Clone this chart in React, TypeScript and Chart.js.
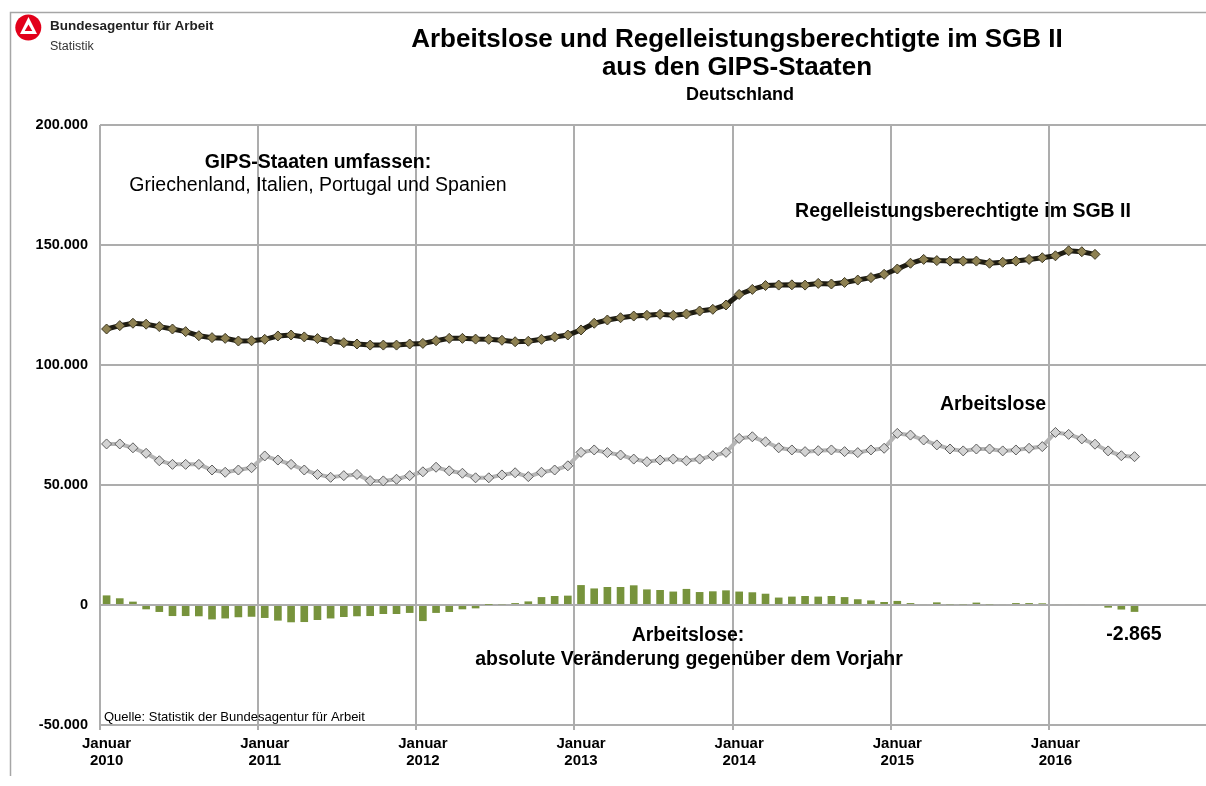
import { useEffect, useRef } from 'react';
import { Chart, registerables } from 'chart.js';

Chart.register(...registerables);

// ---- data ----
const years = ['2010', '2011', '2012', '2013', '2014', '2015', '2016'];
const monthNames = ['Januar', 'Februar', 'März', 'April', 'Mai', 'Juni', 'Juli', 'August', 'September', 'Oktober', 'November', 'Dezember'];
const tickMonth = 'Januar';

// Regelleistungsberechtigte im SGB II (Jan 2010 – Apr 2016)
const regelleistung = [
  115000, 116400, 117400, 117000, 116000, 115000, 113900, 112200, 111400, 111100, 110000, 110100,
  110700, 112100, 112500, 111700, 111000, 110000, 109300, 108750, 108300, 108300, 108300, 108750,
  109000, 110100, 111100, 111100, 110800, 110700, 110300, 109700, 109900, 110700, 111700, 112500,
  114600, 117400, 118750, 119700, 120400, 120700, 121100, 120700, 121250, 122500, 123200, 125000,
  129400, 131500, 133100, 133300, 133400, 133300, 134000, 133750, 134400, 135400, 136400, 137800,
  140000, 142400, 144000, 143500, 143300, 143300, 143300, 142400, 142800, 143300, 144000, 144700,
  145500, 147600, 147200, 146100,
];

// Arbeitslose (Jan 2010 – Jul 2016)
const arbeitslose = [
  67100, 67100, 65500, 63200, 60100, 58600, 58600, 58600, 56250, 55300, 56250, 57200,
  62100, 60400, 58600, 56250, 54400, 53200, 53900, 54400, 51800, 51700, 52400, 53900,
  55500, 57400, 55900, 54900, 53000, 53000, 54200, 55100, 53500, 55300, 56250, 58000,
  63600, 64600, 63500, 62500, 60800, 59700, 60400, 60800, 60100, 60800, 62200, 63600,
  69400, 70100, 68000, 65500, 64600, 63900, 64300, 64600, 63900, 63500, 64600, 65300,
  71500, 70800, 68750, 66700, 65000, 64200, 65000, 65000, 64200, 64600, 65300, 66000,
  71900, 71100, 69200, 67000, 64200, 62200, 61800,
];

// Arbeitslose: absolute Veränderung gegenüber dem Vorjahr
const veraenderung = [
  4000, 2800, 1400, -1800, -2900, -4600, -4600, -4700, -6000, -5600, -5100, -4900,
  -5400, -6500, -7200, -7100, -6250, -5600, -5000, -4700, -4600, -3750, -3750, -3300,
  -6700, -3300, -2900, -1800, -1400, 100, 300, 800, 1500, 3300, 3750, 3900,
  8300, 6900, 7500, 7500, 8200, 6500, 6250, 5600, 6700, 5400, 5700, 6100,
  5600, 5300, 4700, 3100, 3500, 3750, 3500, 3750, 3300, 2400, 1900, 1250,
  1700, 800, 400, 1100, 300, 300, 1000, 300, 400, 800, 800, 700,
  400, 400, 400, -400, -1100, -1900, -2865,
];

const yTicks = { min: -50000, max: 200000, step: 50000 };

const labels: string[] = [];
years.forEach((y) => monthNames.forEach((m) => labels.push(`${m} ${y}`)));

const FONT = "'Liberation Sans', Arial, Helvetica, sans-serif";
const GRID = '#adadad';

function fmt(v: number): string {
  const s = Math.abs(v).toString().replace(/\B(?=(\d{3})+(?!\d))/g, '.');
  return v < 0 ? '-' + s : s;
}

const decor = {
  id: 'decor',
  beforeDraw(chart: any) {
    const ctx: CanvasRenderingContext2D = chart.ctx;
    ctx.save();
    ctx.fillStyle = '#ffffff';
    ctx.fillRect(0, 0, chart.width, chart.height);
    // frame
    ctx.strokeStyle = '#a6a6a6';
    ctx.lineWidth = 1.5;
    ctx.beginPath();
    ctx.moveTo(10.5, 776);
    ctx.lineTo(10.5, 12.5);
    ctx.lineTo(chart.width, 12.5);
    ctx.stroke();
    // logo
    ctx.fillStyle = '#e2001a';
    ctx.beginPath();
    ctx.arc(28.3, 27.5, 13, 0, Math.PI * 2);
    ctx.fill();
    ctx.fillStyle = '#ffffff';
    ctx.beginPath();
    ctx.moveTo(28.5, 17);
    ctx.lineTo(37, 34);
    ctx.lineTo(20, 34);
    ctx.closePath();
    ctx.fill();
    ctx.fillStyle = '#e2001a';
    ctx.beginPath();
    ctx.moveTo(28.5, 24.5);
    ctx.lineTo(32.3, 31);
    ctx.lineTo(24.7, 31);
    ctx.closePath();
    ctx.fill();
    ctx.fillStyle = '#222';
    ctx.textBaseline = 'middle';
    ctx.textAlign = 'left';
    ctx.font = `bold 13.5px ${FONT}`;
    ctx.fillText('Bundesagentur für Arbeit', 50, 26);
    ctx.fillStyle = '#333';
    ctx.font = `12.5px ${FONT}`;
    ctx.fillText('Statistik', 50, 47);
    ctx.restore();
  },
  afterDraw(chart: any) {
    const ctx: CanvasRenderingContext2D = chart.ctx;
    ctx.save();
    ctx.fillStyle = '#000';
    ctx.textBaseline = 'middle';
    const t = (s: string, x: number, y: number, font: string, align: CanvasTextAlign = 'center') => {
      ctx.font = font;
      ctx.textAlign = align;
      ctx.fillText(s, x, y);
    };
    t('Arbeitslose und Regelleistungsberechtigte im SGB II', 737, 40, `bold 26px ${FONT}`);
    t('aus den GIPS-Staaten', 737, 68, `bold 26px ${FONT}`);
    t('Deutschland', 740, 95, `bold 18px ${FONT}`);
    t('GIPS-Staaten umfassen:', 318, 163, `bold 19.5px ${FONT}`);
    t('Griechenland, Italien, Portugal und Spanien', 318, 186, `19.5px ${FONT}`);
    t('Regelleistungsberechtigte im SGB II', 963, 212, `bold 19.5px ${FONT}`);
    t('Arbeitslose', 993, 405, `bold 19.5px ${FONT}`);
    t('Arbeitslose:', 688, 636, `bold 19.5px ${FONT}`);
    t('absolute Veränderung gegenüber dem Vorjahr', 689, 660, `bold 19.5px ${FONT}`);
    t(fmt(veraenderung[veraenderung.length - 1]), 1134, 635, `bold 19.5px ${FONT}`);
    t('Quelle: Statistik der Bundesagentur für Arbeit', 104, 717, `13px ${FONT}`, 'left');
    ctx.restore();
  },
};

export default function App() {
  const ref = useRef<HTMLCanvasElement>(null);
  useEffect(() => {
    const chart = new Chart(ref.current!, {
      type: 'bar',
      data: {
        labels,
        datasets: [
          {
            type: 'line',
            label: 'Regelleistungsberechtigte im SGB II',
            data: regelleistung,
            borderColor: '#1e1c12',
            borderWidth: 5,
            pointStyle: 'rectRot',
            pointRadius: 5,
            pointBackgroundColor: '#8e8152',
            pointBorderColor: '#3b3622',
            pointBorderWidth: 1,
            tension: 0,
            order: 1,
          } as any,
          {
            type: 'line',
            label: 'Arbeitslose',
            data: arbeitslose,
            borderColor: '#b5b5b5',
            borderWidth: 4,
            pointStyle: 'rectRot',
            pointRadius: 5,
            pointBackgroundColor: '#d3d3d3',
            pointBorderColor: '#5e5e5e',
            pointBorderWidth: 1,
            tension: 0,
            order: 2,
          } as any,
          {
            type: 'bar',
            label: 'Veränderung',
            data: veraenderung,
            backgroundColor: '#77933c',
            barPercentage: 0.58,
            categoryPercentage: 1,
            order: 3,
          } as any,
        ],
      },
      options: {
        responsive: false,
        animation: false,
        devicePixelRatio: 1,
        layout: { padding: { top: 125, right: 13, bottom: 0, left: 0 } },
        plugins: { legend: { display: false }, tooltip: { enabled: false } },
        scales: {
          x: {
            type: 'category',
            offset: true,
            grid: {
              offset: true,
              color: (c: any) => (typeof c.index === 'number' && c.index % 12 === 0 ? GRID : 'rgba(0,0,0,0)'),
              lineWidth: 2,
              tickLength: 5,
              drawTicks: true,
            },
            border: { display: false },
            ticks: {
              autoSkip: false,
              maxRotation: 0,
              minRotation: 0,
              padding: 6,
              color: '#000',
              font: { family: FONT, weight: 'bold', size: 15, lineHeight: 1.1 },
              callback: (_v: any, i: number) => (i % 12 === 0 ? [tickMonth, years[i / 12]] : ''),
            },
            afterFit: (s: any) => {
              s.height = 61;
            },
          },
          y: {
            min: yTicks.min,
            max: yTicks.max,
            ticks: {
              stepSize: yTicks.step,
              padding: 12,
              color: '#000',
              font: { family: FONT, weight: 'bold', size: 14.5 },
              callback: (v: any) => fmt(Number(v)),
            },
            grid: { color: GRID, lineWidth: 2, drawTicks: false },
            border: { display: false },
            afterFit: (s: any) => {
              s.width = 100;
            },
          },
        },
      },
      plugins: [decor],
    });
    return () => chart.destroy();
  }, []);
  return (
    <div style={{ position: 'absolute', left: 0, top: 0, width: 1206, height: 786, overflow: 'hidden', background: '#fff' }}>
      <canvas ref={ref} width={1220} height={786} style={{ display: 'block' }} />
    </div>
  );
}
